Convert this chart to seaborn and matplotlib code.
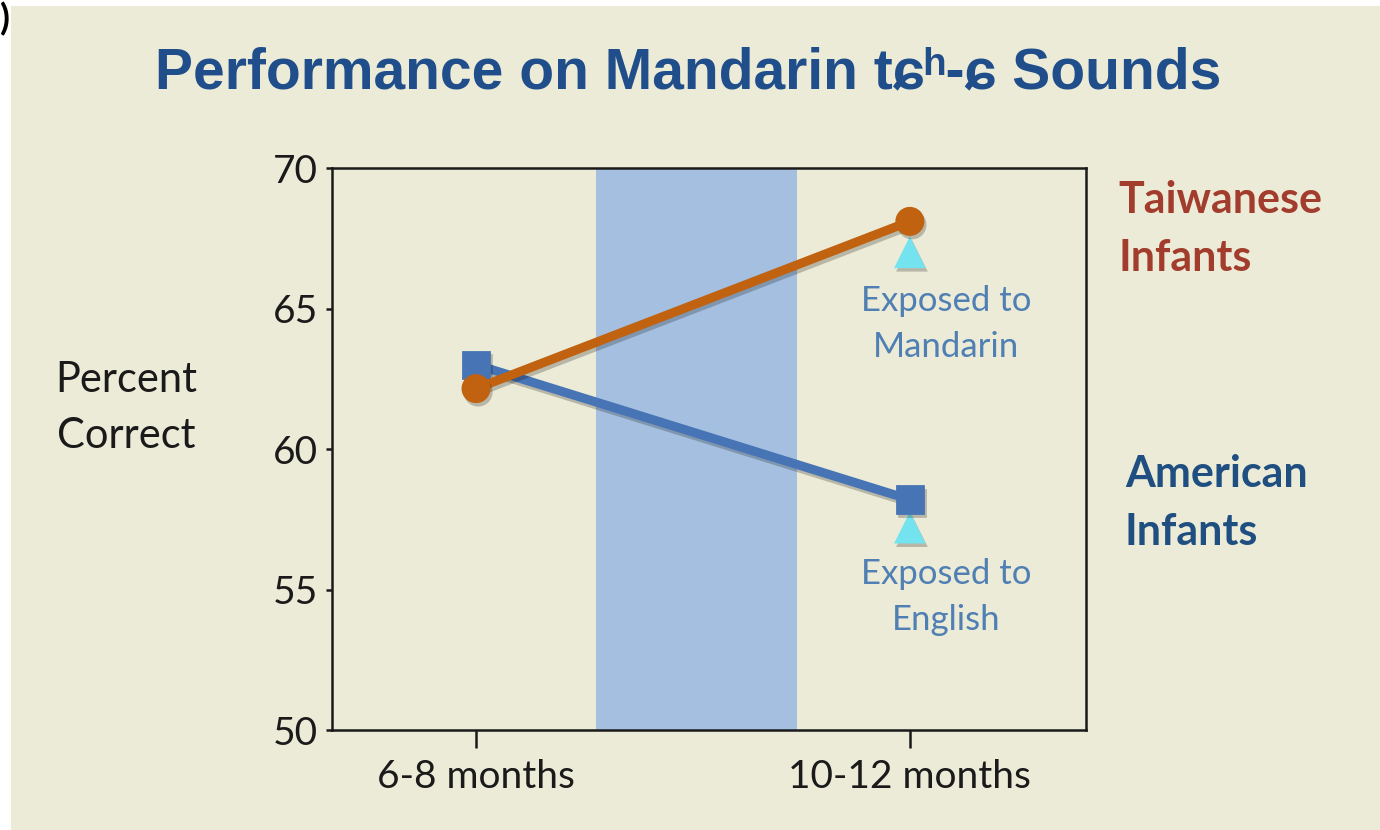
import matplotlib
matplotlib.use("Agg")
import matplotlib.pyplot as plt
import matplotlib.patheffects as pe
from matplotlib.patches import Rectangle
import seaborn as sns
import pandas as pd

# values
ages = ["6-8 months", "10-12 months"]
taiwanese = [62.15, 68.1]
american = [63.0, 58.2]
exposed_ages = ["10-12 months", "10-12 months"]
exposed_vals = [67.0, 57.2]
y_ticks = [50, 55, 60, 65, 70]

df = pd.DataFrame({
    "age": ages * 2,
    "pct": american + taiwanese,
    "group": ["American"] * 2 + ["Taiwanese"] * 2,
})

sns.set_theme(style="white")
plt.rcParams["font.family"] = ["Lato", "DejaVu Sans"]

bg = "#ecebd7"
fig = plt.figure(figsize=(13.8, 8.3), dpi=100, facecolor="white")
# slide background (white strip on top / left like the screenshot)
fig.patches.append(Rectangle((11 / 1380, 0), 1, 1 - 6 / 830, transform=fig.transFigure,
                             facecolor=bg, edgecolor="none", zorder=-10))
fig.text(0.0, 0.998, ")", fontsize=26, color="black", ha="left", va="top",
         fontweight="bold")

ax = fig.add_axes([332 / 1380, 1 - 730 / 830, (1086 - 332) / 1380, (730 - 168) / 830])
ax.set_facecolor(bg)

# shaded period between the two ages
ax.axvspan(0.276, 0.740, color="#a4bfe0", zorder=0, lw=0)

shadow = [pe.SimpleLineShadow(offset=(1.5, -2.5), alpha=0.22, shadow_color="black"), pe.Normal()]

sns.pointplot(data=df, x="age", y="pct", hue="group", hue_order=["American", "Taiwanese"],
              order=ages, palette=["#4674b5", "#c0620f"], markers=["s", "o"],
              linestyles=["-", "-"], markersize=16, linewidth=6.5, errorbar=None,
              legend=False, ax=ax)
for ln in ax.lines:
    ln.set_path_effects(shadow)
    ln.set_zorder(3)
ax.lines[-1].set_zorder(4)

sns.scatterplot(x=exposed_ages, y=exposed_vals, marker="^", s=520, color="#74e3f0",
                edgecolor="none", ax=ax, zorder=2, legend=False)
ax.collections[-1].set_path_effects([
    pe.SimplePatchShadow(offset=(1.5, -2.5), shadow_rgbFace="black", alpha=0.22), pe.Normal()])

ax.set_xlim(-0.332, 1.406)
ax.set_ylim(50, 70)
ax.set_yticks(y_ticks)
ax.set_xlabel("")
ax.set_ylabel("")
for s in ax.spines.values():
    s.set_visible(True)
    s.set_color("#1a1a1a")
    s.set_linewidth(1.8)
ax.tick_params(axis="y", direction="out", length=4, width=1.8, color="#1a1a1a",
               labelsize=28, pad=6, labelcolor="#1a1a1a", left=True)
ax.tick_params(axis="x", direction="out", length=13, width=1.8, color="#1a1a1a",
               labelsize=28, pad=8, labelcolor="#1a1a1a", bottom=True)

fig.text(126 / 1380, 1 - 408 / 830, "Percent\nCorrect", fontsize=30, ha="center",
         va="center", linespacing=1.6, color="#1a1a1a")

fig.text(688 / 1380, 1 - 73 / 830, "Performance on Mandarin t\u0255\u02b0-\u0255 Sounds",
         fontsize=41, fontweight="bold", color="#1f4e8a", ha="center", va="center",
         family=["Liberation Sans", "DejaVu Sans"])

fig.text(1118 / 1380, 1 - 229 / 830, "Taiwanese\nInfants", fontsize=31, fontweight="bold",
         color="#a23d2e", ha="left", va="center", linespacing=1.52)
fig.text(1125 / 1380, 1 - 503 / 830, "American\nInfants", fontsize=31, fontweight="bold",
         color="#1f4e80", ha="left", va="center", linespacing=1.52)

fig.text(946 / 1380, 1 - 324 / 830, "Exposed to\nMandarin", fontsize=25, color="#4f7fb3",
         ha="center", va="center", linespacing=1.52)
fig.text(946 / 1380, 1 - 597 / 830, "Exposed to\nEnglish", fontsize=25, color="#4f7fb3",
         ha="center", va="center", linespacing=1.52)

fig.savefig("out.png", dpi=100, facecolor="white")
